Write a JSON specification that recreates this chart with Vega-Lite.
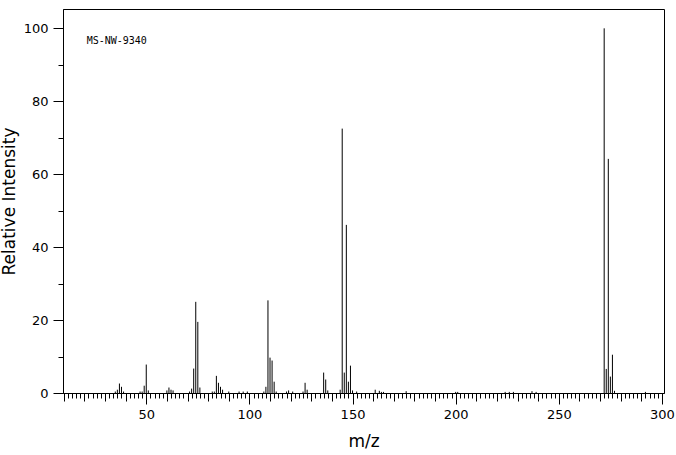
{
  "$schema": "https://vega.github.io/schema/vega-lite/v6.json",
  "autosize": "none",
  "padding": {"left": 63, "top": 9, "right": 12, "bottom": 62},
  "width": 601,
  "height": 384,
  "background": "white",
  "config": {
    "view": {"stroke": "black", "strokeWidth": 1},
    "axis": {"domainColor": "black", "tickColor": "black", "labelColor": "black", "titleColor": "black", "grid": false, "labelFont": "DejaVu Sans", "titleFont": "DejaVu Sans", "labelFontSize": 13, "titleFontSize": 17, "titleFontWeight": "normal", "tickWidth": 1, "domainWidth": 1}
  },
  "datasets": {
    "peaks": [
      {"mz": 35, "intensity": 0.4}, {"mz": 36, "intensity": 0.9}, {"mz": 37, "intensity": 2.6}, {"mz": 38, "intensity": 1.7}, {"mz": 39, "intensity": 0.4},
      {"mz": 47, "intensity": 0.4}, {"mz": 48, "intensity": 0.4}, {"mz": 49, "intensity": 2.0}, {"mz": 50, "intensity": 7.8}, {"mz": 51, "intensity": 0.7},
      {"mz": 60, "intensity": 0.7}, {"mz": 61, "intensity": 1.5}, {"mz": 62, "intensity": 0.9}, {"mz": 63, "intensity": 0.7},
      {"mz": 71, "intensity": 0.4}, {"mz": 72, "intensity": 1.2}, {"mz": 73, "intensity": 6.7}, {"mz": 74, "intensity": 25.0}, {"mz": 75, "intensity": 19.5}, {"mz": 76, "intensity": 1.5},
      {"mz": 82, "intensity": 0.4}, {"mz": 83, "intensity": 0.4}, {"mz": 84, "intensity": 4.7}, {"mz": 85, "intensity": 2.8}, {"mz": 86, "intensity": 1.7}, {"mz": 87, "intensity": 0.9},
      {"mz": 90, "intensity": 0.4}, {"mz": 95, "intensity": 0.4}, {"mz": 97, "intensity": 0.4}, {"mz": 99, "intensity": 0.4},
      {"mz": 107, "intensity": 0.4}, {"mz": 108, "intensity": 1.7}, {"mz": 109, "intensity": 25.4}, {"mz": 110, "intensity": 9.7}, {"mz": 111, "intensity": 8.9}, {"mz": 112, "intensity": 3.1}, {"mz": 113, "intensity": 0.4},
      {"mz": 118, "intensity": 0.4}, {"mz": 119, "intensity": 0.7}, {"mz": 121, "intensity": 0.4},
      {"mz": 126, "intensity": 0.4}, {"mz": 127, "intensity": 2.8}, {"mz": 128, "intensity": 0.9},
      {"mz": 136, "intensity": 5.6}, {"mz": 137, "intensity": 3.7}, {"mz": 138, "intensity": 0.7},
      {"mz": 144, "intensity": 0.9}, {"mz": 145, "intensity": 72.5}, {"mz": 146, "intensity": 5.6}, {"mz": 147, "intensity": 46.1}, {"mz": 148, "intensity": 3.1}, {"mz": 149, "intensity": 7.5}, {"mz": 150, "intensity": 0.7}, {"mz": 152, "intensity": 0.4},
      {"mz": 161, "intensity": 0.9}, {"mz": 163, "intensity": 0.6}, {"mz": 164, "intensity": 0.3}, {"mz": 165, "intensity": 0.3},
      {"mz": 176, "intensity": 0.5}, {"mz": 200, "intensity": 0.3}, {"mz": 201, "intensity": 0.3}, {"mz": 224, "intensity": 0.3}, {"mz": 226, "intensity": 0.3}, {"mz": 228, "intensity": 0.3}, {"mz": 237, "intensity": 0.5}, {"mz": 239, "intensity": 0.3},
      {"mz": 272, "intensity": 100}, {"mz": 273, "intensity": 6.6}, {"mz": 274, "intensity": 64.2}, {"mz": 275, "intensity": 4.5}, {"mz": 276, "intensity": 10.5}, {"mz": 277, "intensity": 0.6}, {"mz": 292, "intensity": 0.3}
    ],
    "note": [{"label": "MS-NW-9340", "mz": 21.1, "intensity": 96.5}]
  },
  "layer": [
    {
      "data": {"name": "peaks"},
      "mark": {"type": "rule", "color": "black", "strokeWidth": 1},
      "encoding": {
        "x": {
          "field": "mz", "type": "quantitative",
          "scale": {"domain": [9.64, 301], "nice": false, "zero": false},
          "axis": {
            "title": "m/z",
            "values": [10,12,14,16,18,20,22,24,26,28,30,32,34,36,38,40,42,44,46,48,50,52,54,56,58,60,62,64,66,68,70,72,74,76,78,80,82,84,86,88,90,92,94,96,98,100,102,104,106,108,110,112,114,116,118,120,122,124,126,128,130,132,134,136,138,140,142,144,146,148,150,152,154,156,158,160,162,164,166,168,170,172,174,176,178,180,182,184,186,188,190,192,194,196,198,200,202,204,206,208,210,212,214,216,218,220,222,224,226,228,230,232,234,236,238,240,242,244,246,248,250,252,254,256,258,260,262,264,266,268,270,272,274,276,278,280,282,284,286,288,290,292,294,296,298,300],
            "tickCount": 1000,
            "format": "d",
            "labelExpr": "datum.value % 50 === 0 ? datum.label : ''",
            "labelOverlap": false,
            "labelFlush": false,
            "tickSize": {"condition": [{"test": "datum.value % 50 === 0", "value": 11}, {"test": "datum.value % 10 === 0", "value": 8}], "value": 5},
            "labelPadding": 4,
            "titlePadding": 12
          }
        },
        "y": {
          "field": "intensity", "type": "quantitative",
          "scale": {"domain": [0, 105.3], "nice": false},
          "axis": {
            "title": "Relative Intensity",
            "values": [0,10,20,30,40,50,60,70,80,90,100],
            "tickCount": 1000,
            "format": "d",
            "labelExpr": "datum.value % 20 === 0 ? datum.label : ''",
            "labelOverlap": false,
            "tickSize": {"condition": {"test": "datum.value % 20 === 0", "value": 10}, "value": 5},
            "labelPadding": 5,
            "titlePadding": 5
          }
        },
        "y2": {"datum": 0}
      }
    },
    {
      "data": {"name": "note"},
      "mark": {"type": "text", "font": "DejaVu Sans Mono", "fontSize": 10, "align": "left", "baseline": "middle", "color": "black"},
      "encoding": {
        "x": {"field": "mz", "type": "quantitative"},
        "y": {"field": "intensity", "type": "quantitative"},
        "text": {"field": "label"}
      }
    }
  ]
}
